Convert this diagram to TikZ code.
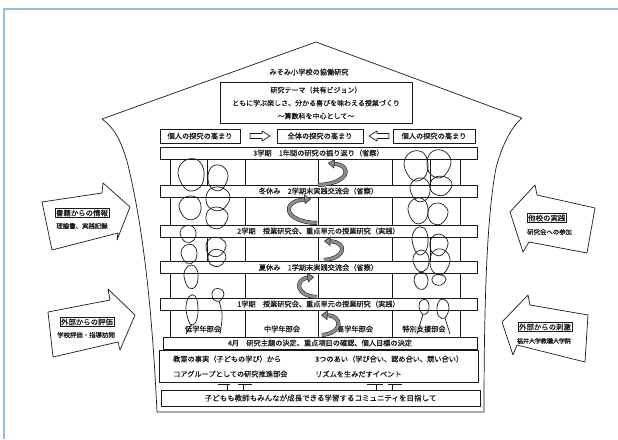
\documentclass[tikz,border=0pt]{standalone}
\usepackage{fontspec}
\setmainfont{Noto Sans CJK JP}[FakeBold=0.5]
\usetikzlibrary{arrows.meta}
\definecolor{frameblue}{RGB}{150,185,225}
\newcommand\jfs[1]{\fontsize{#1}{#1}\selectfont}
\newcommand\lpA[4]{\draw[looppen] plot[smooth cycle, tension=0.7] coordinates {(#1-#3,#2-0.1*#4) (#1-0.5*#3,#2-0.95*#4) (#1+0.5*#3,#2-#4) (#1+#3,#2-0.2*#4) (#1+0.7*#3,#2+0.8*#4) (#1-0.3*#3,#2+#4)};}
\newcommand\lpB[4]{\draw[looppen] plot[smooth cycle, tension=0.7] coordinates {(#1+#3,#2-0.1*#4) (#1+0.5*#3,#2-0.95*#4) (#1-0.5*#3,#2-#4) (#1-#3,#2-0.2*#4) (#1-0.7*#3,#2+0.8*#4) (#1+0.3*#3,#2+#4)};}
\begin{document}
\begin{tikzpicture}[x=1pt,y=-1pt,line join=round,
  every node/.style={inner sep=0pt, text=black!90},
  pen/.style={draw=black!90, line width=0.7pt},
  boxed/.style={pen, fill=white, font=\jfs{7.2}},
  band/.style={boxed, minimum width=317pt, minimum height=12pt},
  lbl/.style={font=\jfs{7.2}},
  small/.style={font=\jfs{6.4}},
  tag/.style={draw=black!90, line width=0.5pt, inner sep=1pt, font=\jfs{7.4}},
  blockarrow/.style={pen, fill=white},
  looppen/.style={draw=black!90, line width=0.7pt},
  ribbon/.style={draw=black!90, line width=0.5pt, double=black!45, double distance=3pt, -{Triangle[length=6.5pt,width=9.5pt,fill=black!45]}},
]
\fill[white] (0,0) rectangle (618,439);
\useasboundingbox (0,0) rectangle (618,439);
\draw[frameblue, line width=1.8pt] (4,439) -- (4,9) -- (618,9);

% house outline
\draw[pen] (157,412) .. controls (153,330) and (146,240) .. (128,165)
  .. controls (121,138) and (112,126) .. (102,119) -- (316,42) -- (522,118)
  .. controls (512,126) and (502,145) .. (496,168)
  .. controls (487,215) and (484,300) .. (484,412) -- cycle;

% title and theme
\node[lbl] (title) at (309,72) {みそみ小学校の協働研究};
\node[boxed, minimum width=192pt, minimum height=41pt, align=center, font=\fontsize{7}{13}\selectfont] (theme) at (316,103)
  {研究テーマ（共有ビジョン）\\ともに学ぶ楽しさ、分かる喜びを味わえる授業づくり\\〜算数科を中心として〜};

% top row
\node[boxed, minimum width=80pt, minimum height=14pt] (pl) at (200,136) {個人の探究の高まり};
\node[boxed, minimum width=86pt, minimum height=14pt] (pc) at (320,136) {全体の探究の高まり};
\node[boxed, minimum width=82pt, minimum height=14pt] (pr) at (434,136) {個人の探究の高まり};
\draw[blockarrow] (250,133.5) -- (262,133.5) -- (262,131) -- (270,136) -- (262,141) -- (262,138.5) -- (250,138.5) -- cycle;
\draw[blockarrow] (389,133.5) -- (377,133.5) -- (377,131) -- (369,136) -- (377,141) -- (377,138.5) -- (389,138.5) -- cycle;

% pillars
\foreach \x in {170,245,318,392,460} \draw[pen] (\x,153) -- (\x,343);
\draw[pen] (207,159) -- (207,185) (430,159) -- (430,185) (207,237) -- (207,262) (430,237) -- (430,262);

% bands
\node[band] (b3) at (318.5,153) {3学期　1年間の研究の振り返り（省察）};
\node[band] (bw) at (318.5,191) {冬休み　2学期末実践交流会（省察）};
\node[band] (b2) at (318.5,231) {2学期　授業研究会、重点単元の授業研究（実践）};
\node[band] (bs) at (318.5,267.5) {夏休み　1学期末実践交流会（省察）};
\node[band] (b1) at (318.5,304) {1学期　授業研究会、重点単元の授業研究（実践）};
\node[band, minimum width=314pt] (b4) at (320,343) {4月　研究主題の決定、重点項目の確認、個人目標の決定};

% group labels
\node[lbl] (g1) at (203,329) {低学年部会};
\node[lbl] (g2) at (282,329) {中学年部会};
\node[lbl] (g3) at (355,329) {高学年部会};
\node[lbl] (g4) at (424,329) {特別支援部会};

% spiral arrows
\draw[ribbon] (318,185) .. controls (348,184) and (354,166) .. (328,163);
\draw[ribbon] (317,223) .. controls (283,222) and (281,201) .. (311,199);
\draw[ribbon] (324,260) .. controls (347,258) and (347,242) .. (324,241);
\draw[ribbon] (317,297) .. controls (295,296) and (295,279) .. (314,277);
\draw[ribbon] (322,335) .. controls (343,333) and (343,316) .. (321,315);

% loops left chain
\lpA{191}{175}{13}{15}
\lpB{218}{178}{10}{12}
\lpB{218}{199}{12}{11}
\lpA{190}{208}{11}{11}
\lpB{217}{218}{11}{10}
\lpA{188}{234}{8}{8}
\lpB{216}{247}{10}{9}
\lpA{189}{254}{8}{9}
\lpB{217}{258}{9}{8}
\lpA{191}{277}{7}{11}
\lpB{218}{295}{6}{6}
\lpA{192}{310}{6}{14}
\draw[looppen] (192,324) .. controls (188,330) .. (186,334);
\draw[looppen] (219,301) .. controls (223,315) .. (220,334);
% loops right chain
\lpA{416}{166}{12}{14}
\lpB{439}{164}{12}{13}
\lpA{420}{190}{10}{11}
\lpB{441}{186}{11}{9}
\lpA{418}{211}{10}{12}
\lpB{438}{214}{10}{10}
\lpA{420}{241}{8}{13}
\lpB{439}{245}{9}{10}
\lpA{421}{261}{8}{10}
\lpB{440}{262}{10}{12}
\lpA{421}{281}{7}{8}
\lpB{439}{280}{7}{5}
\lpA{424}{307}{5}{7}
\lpB{443}{309}{6}{9}
\draw[looppen] (423,314) -- (417,334);
\draw[looppen] (445,318) -- (450,334);

% bottom box
\node[boxed, minimum width=319pt, minimum height=32pt] (base) at (318.5,366) {};
\node[lbl, anchor=west] (t1) at (173,359) {教室の事実（子どもの学び）から};
\node[lbl, anchor=west] (t2) at (315,359) {3つのあい（学び合い、認め合い、競い合い）};
\node[lbl, anchor=west] (t3) at (173,374) {コアグループとしての研究推進部会};
\node[lbl, anchor=west] (t4) at (315,374) {リズムを生みだすイベント};

% final box
\node[boxed, font=\jfs{7.5}, minimum width=319pt, minimum height=16pt] (fin) at (320.5,398) {子どもも教師もみんなが成長できる学習するコミュニティを目指して};

% T connectors
\draw[pen] (fin.north -| 227,0) -- (227,384) (218,384) -- (230,384);
\draw[pen] (fin.north -| 243,0) -- (243,384) (238,384) -- (252,384);
\draw[pen] (fin.north -| 376,0) -- (376,384) (367,384) -- (383,384);
\draw[pen] (fin.north -| 392,0) -- (392,384) (388,384) -- (402,384);

% side arrows
\draw[blockarrow] (42,202) -- (102,193) -- (103,183) -- (130,207) -- (117,240) -- (118,233) -- (52,250) -- cycle;
\node[tag] (s1) at (82,213) {書籍からの情報};
\node[small] (s1b) at (82,226) {理論書、実践記録};

\draw[blockarrow] (48,312) -- (110,300) -- (108,289) -- (135,315) -- (120,350) -- (118,342) -- (53,357) -- cycle;
\node[tag] (s2) at (87,322) {外部からの評価};
\node[small] (s2b) at (86,335) {学校評価・指導訪問};

\draw[blockarrow] (510,212) -- (535,185) -- (537,195) -- (595,208) -- (587,253) -- (529,242) -- (523,252) -- cycle;
\node[tag, anchor=west] (s3) at (527,218) {他校の実践};
\node[small, anchor=west] (s3b) at (527,232) {研究会への参加};

\draw[blockarrow] (502,322) -- (528,295) -- (530,305) -- (588,315) -- (585,362) -- (517,345) -- (513,355) -- cycle;
\node[tag] (s4) at (545,327) {外部からの刺激};
\node[small, font=\jfs{6}] (s4b) at (544,341) {福井大学教職大学院};
\end{tikzpicture}
\end{document}
